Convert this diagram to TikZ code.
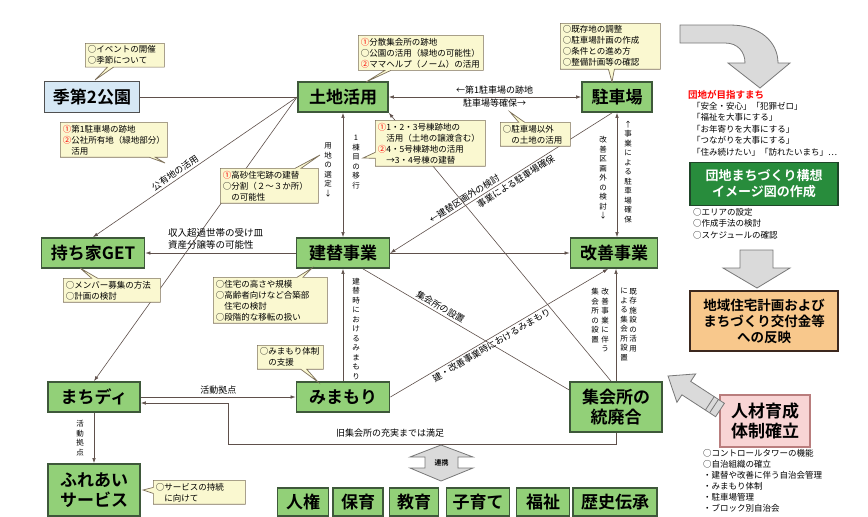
\documentclass[tikz,border=0pt]{standalone}
\usepackage{fontspec}
\setmainfont{Noto Sans CJK JP}[BoldFont={Noto Sans CJK JP Bold}]
\usetikzlibrary{arrows.meta,shapes.callouts,calc}
\XeTeXlinebreaklocale "ja"
\definecolor{boxgreen}{RGB}{146,208,120}
\definecolor{boxdraw}{RGB}{62,88,58}
\definecolor{parkblue}{RGB}{214,232,245}
\definecolor{parkdraw}{RGB}{80,80,80}
\definecolor{callfill}{RGB}{250,248,208}
\definecolor{callborder}{RGB}{125,112,90}
\definecolor{linec}{RGB}{95,80,75}
\definecolor{darkgreen}{RGB}{40,140,60}
\definecolor{darkgreenb}{RGB}{30,70,40}
\definecolor{orangefill}{RGB}{248,200,140}
\definecolor{orangedraw}{RGB}{60,40,30}
\definecolor{pinkfill}{RGB}{248,212,212}
\definecolor{pinkdraw}{RGB}{185,125,125}
\definecolor{arrowgray}{RGB}{218,218,218}
\definecolor{arrowdraw}{RGB}{120,120,120}
\def\vgobble#1{}
\def\vkeep#1{#1}
\def\vtaux#1#2{#1\ifx\relax#2\expandafter\vgobble\else\expandafter\vkeep\fi{\\\vtaux#2}}
\def\vt#1{\vtaux#1\relax}
\tikzset{
  mainbox/.style={draw=boxdraw, line width=1.8pt, fill=boxgreen, font=\bfseries\fontsize{17}{20}\selectfont, inner sep=0pt, align=center},
  callbox/.style={rectangle callout, callout pointer width=6pt, draw=callborder, line width=0.7pt, fill=callfill, font=\fontsize{8.5}{11}\selectfont, align=left, inner sep=2.5pt, anchor=north west},
  conn/.style={draw=linec, line width=0.6pt},
  arr/.style={conn, -{Latex[length=5pt,width=3.5pt]}},
  arrboth/.style={conn, {Latex[length=5pt,width=3.5pt]}-{Latex[length=5pt,width=3.5pt]}},
  lbl/.style={font=\fontsize{9}{10.5}\selectfont, inner sep=2pt},
  vlbl/.style={font=\fontsize{7.5}{9.5}\selectfont, inner sep=0pt, align=center},
  bigarrow/.style={fill=arrowgray, draw=arrowdraw, line width=0.8pt},
  listtext/.style={font=\fontsize{8.5}{11.5}\selectfont, align=left, inner sep=0pt, anchor=north west},
}
\begin{document}
\begin{tikzpicture}[x=1pt,y=-1pt]
\useasboundingbox (0,0) rectangle (868,517);
\fill[white] (0,0) rectangle (868,517);

% main nodes
\node[mainbox, fill=parkblue, draw=parkdraw, minimum width=95pt, minimum height=31pt] (park) at (92,97) {季第2公園};
\node[mainbox, minimum width=90pt, minimum height=30pt] (land) at (343,97) {土地活用};
\node[mainbox, minimum width=70pt, minimum height=30pt] (parking) at (617,97) {駐車場};
\node[mainbox, minimum width=103pt, minimum height=30pt] (own) at (93,253) {持ち家GET};
\node[mainbox, minimum width=93pt, minimum height=30pt] (rebuild) at (343,253) {建替事業};
\node[mainbox, minimum width=87pt, minimum height=30pt] (improve) at (614,253) {改善事業};
\node[mainbox, minimum width=92pt, minimum height=30pt] (machi) at (94,397) {まちディ};
\node[mainbox, minimum width=93pt, minimum height=30pt] (mimamori) at (343,397) {みまもり};
\node[mainbox, minimum width=92pt, minimum height=50pt] (hall) at (616,407) {集会所の\\統廃合};
\node[mainbox, minimum width=92pt, minimum height=52pt] (fureai) at (94,490) {ふれあい\\サービス};

\begin{scope}[every node/.append style={font=\bfseries\fontsize{15}{17}\selectfont, minimum height=28pt}]
\node[mainbox, minimum width=51pt] (b1) at (303,502) {人権};
\node[mainbox, minimum width=50pt] (b2) at (358,502) {保育};
\node[mainbox, minimum width=49pt] (b3) at (414,502) {教育};
\node[mainbox, minimum width=63pt] (b4) at (478,502) {子育て};
\node[mainbox, minimum width=53pt] (b5) at (543,502) {福祉};
\node[mainbox, minimum width=84pt] (b6) at (615,502) {歴史伝承};
\end{scope}

% connectors
\draw[conn] (park.east) -- (land.west);
\draw[arr] (land.west) -- node[lbl, sloped, above, pos=0.58] {公有地の活用} (own.north);
\draw[arr] (land.west) -- (machi.north);
\draw[arrboth] (land.east) -- node[lbl, above, pos=0.55] {←第1駐車場の跡地} node[lbl, below, pos=0.55] {駐車場等確保→} (parking.west);
\draw[arrboth] (land.south) -- (rebuild.north);
\node[vlbl] (v1) at (356,162) {\vt{1棟目の移行}};
\node[vlbl] (v2) at (328,170) {\vt{用地の選定↓}};
\draw[arr] (rebuild.west) -- (own.east);
\node[lbl, align=left, anchor=west, font=\fontsize{9.5}{12}\selectfont] (incl) at (166,239) {収入超過世帯の受け皿\\資産分譲等の可能性};
\draw[arr] (mimamori.north) -- (rebuild.south);
\node[vlbl] (v3) at (356,329) {\vt{建替時におけるみまもり}};
\draw[arr] (rebuild.east) -- (improve.west);
\draw[arr] ($(parking.south)+(-5,0)$) -- node[lbl, sloped, above, pos=0.65] {←建替区画外の検討} node[lbl, sloped, below, pos=0.45] {事業による駐車場確保} (rebuild.east);
\draw[arrboth] (parking.south) -- (parking.south |- improve.north);
\node[vlbl] (v4) at (603,178) {\vt{改善区画外の検討↓}};
\node[vlbl] (v5) at (628,172) {\vt{↑事業による駐車場確保}};
\draw[arr] ($(hall.north)+(-5,0)$) -- (land.south east);
\draw[conn] ($(rebuild.south)+(20,0)$) -- node[lbl, sloped, above, pos=0.36] {集会所の設置} (hall.160);
\draw[arr] (mimamori.east) -- node[lbl, sloped, below, pos=0.45] {建・改善事業時におけるみまもり} ($(improve.south)+(-6,0)$);
\draw[arr] (hall.north) -- (hall.north |- improve.south);
\node[vlbl, anchor=north] (v6) at (605,288) {\vt{改善事業に伴う}};
\node[vlbl, anchor=north] (v7) at (595,288) {\vt{集会所の設置}};
\node[vlbl, anchor=north] (v8) at (633,288) {\vt{既存施設の活用}};
\node[vlbl, anchor=north] (v9) at (624,288) {\vt{による集会所設置}};
\draw[arr] (machi.east) -- node[lbl, above] {活動拠点} (mimamori.west);
\draw[arr] (hall.south) -- ++(0,11) -| ($(machi.east)+(87,6)$) -- ($(machi.east)+(0,6)$);
\node[lbl] (retl) at (390,433) {旧集会所の充実までは満足};
\draw[arr] (machi.south) -- (fureai.north);
\node[vlbl] (v10) at (80,438) {\vt{活動拠点}};

% callouts
\node[callbox, text width=74pt, callout absolute pointer={(95,80)}] (c1) at (85,43) {○イベントの開催\\○季節について};
\node[callbox, text width=102pt, callout absolute pointer={(165,163)}] (c2) at (60,122) {\textcolor{red}{①}第1駐車場の跡地\\\textcolor{red}{②}公社所有地（緑地部分）\\　活用};
\node[callbox, text width=120pt, callout absolute pointer={(366,82)}] (c3) at (358,35) {\textcolor{red}{①}分散集会所の跡地\\○公園の活用（緑地の可能性）\\\textcolor{red}{②}ママヘルプ（ノーム）の活用};
\node[callbox, text width=95pt, callout absolute pointer={(612,82)}] (c4) at (560,23) {○既存地の調整\\○駐車場計画の作成\\○条件との進め方\\○整備計画等の確認};
\node[callbox, text width=105pt, callout absolute pointer={(363,158)}] (c5) at (375,120) {\textcolor{red}{①}1・2・3号棟跡地の\\　活用（土地の譲渡含む）\\\textcolor{red}{②}4・5号棟跡地の活用\\　→3・4号棟の建替};
\node[callbox, text width=65pt, callout absolute pointer={(510,112)}] (c6) at (500,122) {○駐車場以外\\　の土地の活用};
\node[callbox, text width=93pt, callout absolute pointer={(320,155)}] (c7) at (220,168) {\textcolor{red}{①}高砂住宅跡の建替\\○分割（２～３か所）\\　の可能性};
\node[callbox, text width=92pt, callout absolute pointer={(80,268)}] (c8) at (63,278) {○メンバー募集の方法\\○計画の検討};
\node[callbox, text width=109pt, callout absolute pointer={(312,268)}] (c9) at (213,277) {○住宅の高さや規模\\○高齢者向けなど合築部\\　住宅の検討\\○段階的な移転の扱い};
\node[callbox, text width=61pt, callout absolute pointer={(318,382)}] (c10) at (257,345) {○みまもり体制\\　の支援};
\node[callbox, text width=87pt, callout absolute pointer={(143,490)}] (c11) at (153,480) {○サービスの持続\\　に向けて};

% right panel
\draw[bigarrow] (680,25) -- (730,25) .. controls (760,25) and (778,42) .. (778,63) -- (790,63) -- (760,88) -- (728,63) -- (745,63) .. controls (745,52) and (738,43) .. (725,43) -- (680,43) -- cycle;
\node[anchor=west, text=red, font=\bfseries\fontsize{9.5}{11}\selectfont, inner sep=0pt] (goal) at (688,95) {団地が目指すまち};
\node[listtext] (goals) at (692,102) {「安全・安心」「犯罪ゼロ」\\「福祉を大事にする」\\「お年寄りを大事にする」\\「つながりを大事にする」\\「住み続けたい」「訪れたいまち」…};
\node[draw=darkgreenb, line width=1.5pt, fill=darkgreen, text=white, font=\bfseries\fontsize{13}{16}\selectfont, align=center, minimum width=148pt, minimum height=43pt, inner sep=0pt] (vision) at (764,184) {団地まちづくり構想\\イメージ図の作成};
\node[listtext] (vlist) at (693,208) {○エリアの設定\\○作成手法の検討\\○スケジュールの確認};
\draw[bigarrow] (740,250) -- (773,250) -- (773,268) -- (790,268) -- (757,288) -- (723,268) -- (740,268) -- cycle;
\node[draw=orangedraw, line width=2pt, fill=orangefill, font=\bfseries\fontsize{13.5}{16}\selectfont, align=center, minimum width=148pt, minimum height=60pt, inner sep=0pt] (plan) at (764,321) {地域住宅計画および\\まちづくり交付金等\\への反映};
\node[draw=pinkdraw, line width=1.2pt, fill=pinkfill, font=\bfseries\fontsize{17}{20}\selectfont, align=center, minimum width=90pt, minimum height=52pt, inner sep=0pt] (hr) at (765,421) {人材育成\\体制確立};
\node[listtext, font=\fontsize{8.5}{11}\selectfont] (hrlist) at (703,449) {○コントロールタワーの機能\\○自治組織の確立\\・建替や改善に伴う自治会管理\\・みまもり体制\\・駐車場管理\\・ブロック別自治会};
\draw[bigarrow] (724.4,403.3) -- (690.7,381.4) -- (695.7,373.9) -- (668,376) -- (676.9,402.3) -- (681.9,394.8) -- (715.6,416.7) -- cycle;
\draw[arrowdraw, line width=0.8pt] (718.5,399.3) -- (709.7,412.7) (714.3,396.5) -- (705.5,409.9);

% connection between bottom row and hall
\draw[bigarrow] (441,445) -- (473,457) -- (458,457) -- (458,468) -- (473,468) -- (441,481) -- (410,468) -- (425,468) -- (425,457) -- (410,457) -- cycle;
\node[font=\bfseries\fontsize{7}{8}\selectfont, inner sep=0pt] (link) at (441.5,462.5) {連携};
\end{tikzpicture}
\end{document}
